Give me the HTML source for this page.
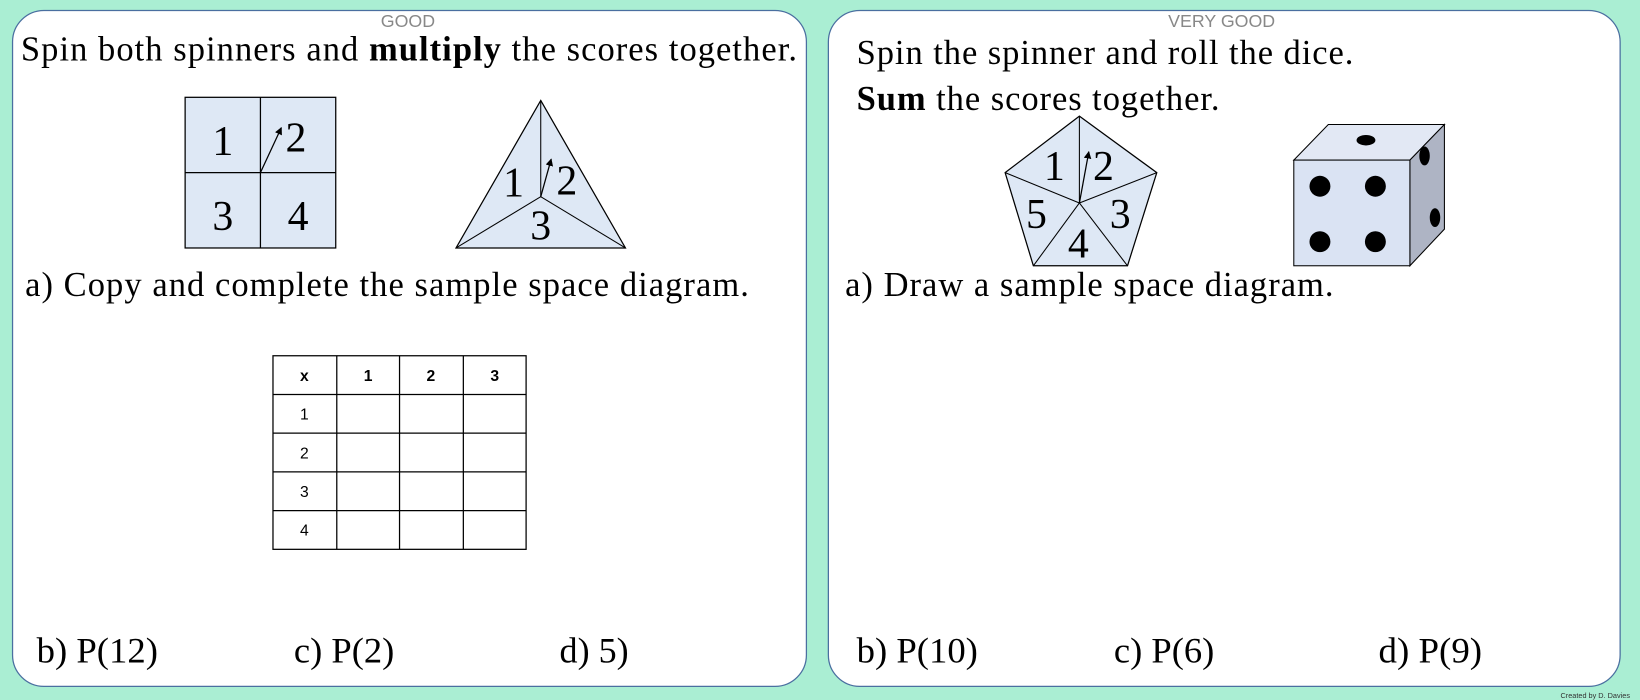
<!DOCTYPE html>
<html><head><meta charset="utf-8"><style>
html,body{margin:0;padding:0;background:#aaeed3;}
svg{display:block}
.s{font-family:"Liberation Serif",serif;fill:#000}
.n{font-family:"Liberation Serif",serif;font-size:40px;fill:#000}
.t{font-family:"Liberation Sans",sans-serif;font-size:15px;fill:#000}
</style></head><body>
<svg width="1640" height="700" viewBox="0 0 1568 669" preserveAspectRatio="none" xmlns="http://www.w3.org/2000/svg">
<defs><marker id="a" viewBox="0 0 10 10" refX="9" refY="5" markerWidth="6" markerHeight="6" orient="auto"><path d="M0,0 L10,5 L0,10 z" fill="#000"/></marker></defs>
<rect width="1568" height="669" fill="#aaeed3"/>
<rect x="12" y="10" width="759" height="646" rx="30" fill="#fff" stroke="#4a6fa0" stroke-width="1.2"/>
<rect x="792" y="10" width="757" height="646" rx="30" fill="#fff" stroke="#4a6fa0" stroke-width="1.2"/>
<text x="390" y="26" text-anchor="middle" font-family="Liberation Sans,sans-serif" font-size="17" fill="#888">GOOD</text>
<text x="1168" y="26" text-anchor="middle" font-family="Liberation Sans,sans-serif" font-size="17" fill="#888">VERY GOOD</text>
<text class="s" x="20" y="58" font-size="33" textLength="742" lengthAdjust="spacing">Spin both spinners and <tspan font-weight="bold">multiply</tspan> the scores together.</text>
<rect x="177" y="93" width="144" height="144" fill="#dee8f5" stroke="#000" stroke-width="1.2"/>
<line x1="249" y1="93" x2="249" y2="237" stroke="#000" stroke-width="1.2"/>
<line x1="177" y1="165" x2="321" y2="165" stroke="#000" stroke-width="1.2"/>
<text class="n" x="213" y="148" text-anchor="middle">1</text>
<text class="n" x="283" y="145" text-anchor="middle">2</text>
<text class="n" x="213" y="220" text-anchor="middle">3</text>
<text class="n" x="285" y="220" text-anchor="middle">4</text>
<line x1="249" y1="165" x2="269" y2="122" stroke="#000" stroke-width="1.2" marker-end="url(#a)"/>
<polygon points="517,96 598,237 436,237" fill="#dee8f5" stroke="#000" stroke-width="1.2"/>
<line x1="517" y1="96" x2="517" y2="188" stroke="#000"/>
<line x1="436" y1="237" x2="517" y2="188" stroke="#000"/>
<line x1="598" y1="237" x2="517" y2="188" stroke="#000"/>
<text class="n" x="491" y="188" text-anchor="middle">1</text>
<text class="n" x="542" y="186" text-anchor="middle">2</text>
<text class="n" x="517" y="229" text-anchor="middle">3</text>
<line x1="517" y1="188" x2="527" y2="152" stroke="#000" stroke-width="1.2" marker-end="url(#a)"/>
<text class="s" x="24" y="283" font-size="33" textLength="692" lengthAdjust="spacing">a) Copy and complete the sample space diagram.</text>
<g stroke="#000" stroke-width="1.2">
<rect x="261" y="340" width="242" height="185" fill="none"/>
<line x1="322" y1="340" x2="322" y2="525"/><line x1="382" y1="340" x2="382" y2="525"/><line x1="443" y1="340" x2="443" y2="525"/>
<line x1="261" y1="377" x2="503" y2="377"/><line x1="261" y1="414" x2="503" y2="414"/><line x1="261" y1="451" x2="503" y2="451"/><line x1="261" y1="488" x2="503" y2="488"/>
</g>
<text class="t" x="291" y="364" text-anchor="middle" font-weight="bold">x</text>
<text class="t" x="352" y="364" text-anchor="middle" font-weight="bold">1</text>
<text class="t" x="412" y="364" text-anchor="middle" font-weight="bold">2</text>
<text class="t" x="473" y="364" text-anchor="middle" font-weight="bold">3</text>
<text class="t" x="291" y="401" text-anchor="middle">1</text>
<text class="t" x="291" y="438" text-anchor="middle">2</text>
<text class="t" x="291" y="475" text-anchor="middle">3</text>
<text class="t" x="291" y="512" text-anchor="middle">4</text>
<text class="s" x="35" y="633" font-size="34" textLength="116" lengthAdjust="spacingAndGlyphs">b) P(12)</text>
<text class="s" x="281" y="633" font-size="34" textLength="96" lengthAdjust="spacingAndGlyphs">c) P(2)</text>
<text class="s" x="535" y="633" font-size="34" textLength="66" lengthAdjust="spacingAndGlyphs">d) 5)</text>
<text class="s" x="819" y="61" font-size="33" textLength="475" lengthAdjust="spacing">Spin the spinner and roll the dice.</text>
<text class="s" x="819" y="105" font-size="33" textLength="347" lengthAdjust="spacing"><tspan font-weight="bold">Sum</tspan> the scores together.</text>
<polygon points="1032,111 1106,165 1078,254 988,254 961,165" fill="#dee8f5" stroke="#000" stroke-width="1.2"/>
<g stroke="#000" stroke-width="1"><line x1="1032" y1="194" x2="1032" y2="111"/><line x1="1032" y1="194" x2="1106" y2="165"/><line x1="1032" y1="194" x2="1078" y2="254"/><line x1="1032" y1="194" x2="988" y2="254"/><line x1="1032" y1="194" x2="961" y2="165"/></g>
<text class="n" x="1008" y="172" text-anchor="middle">1</text>
<text class="n" x="1055" y="172" text-anchor="middle">2</text>
<text class="n" x="991" y="218" text-anchor="middle">5</text>
<text class="n" x="1071" y="218" text-anchor="middle">3</text>
<text class="n" x="1031" y="246" text-anchor="middle">4</text>
<line x1="1032" y1="194" x2="1041" y2="145" stroke="#000" stroke-width="1.2" marker-end="url(#a)"/>
<polygon points="1237,153 1270,119 1381,119 1348,153" fill="#e2e8f4" stroke="#000" stroke-width="1"/>
<polygon points="1348,153 1381,119 1381,219 1348,254" fill="#aeb4c4" stroke="#000" stroke-width="1"/>
<rect x="1237" y="153" width="111" height="101" fill="#dae3f3" stroke="#000" stroke-width="1"/>
<circle cx="1262" cy="178" r="10"/><circle cx="1315" cy="178" r="10"/><circle cx="1262" cy="231" r="10"/><circle cx="1315" cy="231" r="10"/>
<ellipse cx="1306" cy="134" rx="9" ry="5"/>
<ellipse cx="1362" cy="149" rx="5" ry="9"/><ellipse cx="1372" cy="208" rx="5" ry="9"/>
<text class="s" x="808" y="283" font-size="33" textLength="467" lengthAdjust="spacing">a) Draw a sample space diagram.</text>
<text class="s" x="819" y="633" font-size="34" textLength="116" lengthAdjust="spacingAndGlyphs">b) P(10)</text>
<text class="s" x="1065" y="633" font-size="34" textLength="96" lengthAdjust="spacingAndGlyphs">c) P(6)</text>
<text class="s" x="1318" y="633" font-size="34" textLength="99" lengthAdjust="spacingAndGlyphs">d) P(9)</text>
<text x="1492" y="667" font-family="Liberation Sans,sans-serif" font-size="7" fill="#333">Created by D. Davies</text>
</svg>
</body></html>
